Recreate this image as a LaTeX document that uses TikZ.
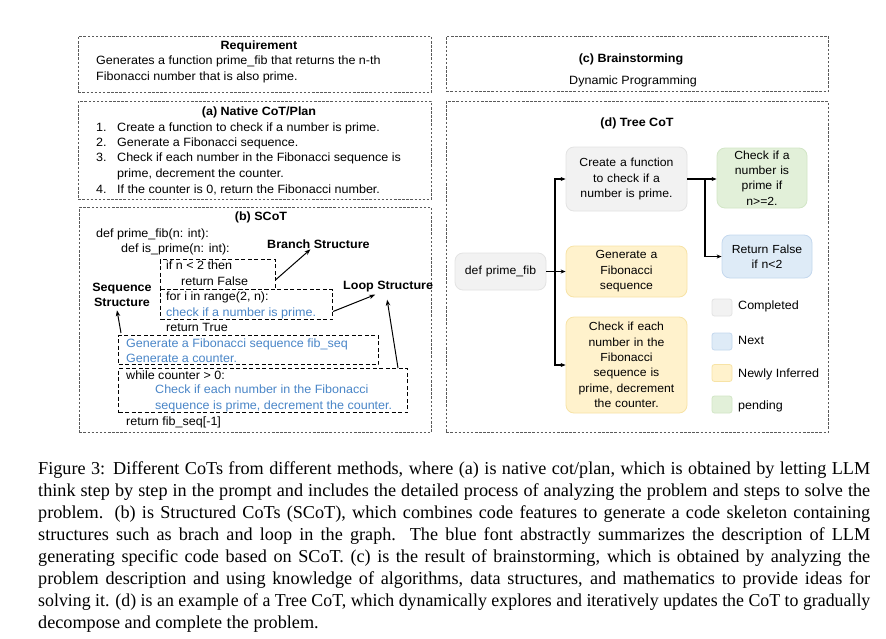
\documentclass[tikz,border=0pt]{standalone}
\usepackage{fontspec}
\setmainfont{Liberation Serif}
\newfontfamily\dfont[FakeStretch=1.045]{Liberation Sans}
\usetikzlibrary{calc,arrows.meta}
\definecolor{panelgray}{HTML}{5A5A5A}
\definecolor{bluetxt}{HTML}{4A86C8}
\definecolor{cgray}{HTML}{F2F2F2}
\definecolor{cgrayb}{HTML}{E3E3E3}
\definecolor{cyel}{HTML}{FFF2CC}
\definecolor{cyelb}{HTML}{F7E3A6}
\definecolor{cgreen}{HTML}{E2F0D9}
\definecolor{cgreenb}{HTML}{D2E6C6}
\definecolor{cblue}{HTML}{DEEBF7}
\definecolor{cblueb}{HTML}{C4D8EE}
\newsavebox\capbox
\newcommand\capline[1]{\sbox\capbox{#1}\ifdim\wd\capbox>832pt\resizebox{832pt}{\height}{\usebox\capbox}\else\makebox[832pt][s]{#1}\fi}
\begin{document}
\begin{tikzpicture}[x=1pt,y=-1pt,
  panel/.style={draw=panelgray, dash pattern=on 2.5pt off 1.6pt, line width=0.6pt, anchor=north west, inner sep=0pt},
  codebox/.style={draw=black, dash pattern=on 4pt off 2.5pt, line width=1pt, anchor=north west, inner sep=0pt},
  dt/.style={font=\dfont\fontsize{12}{14}\selectfont, inner sep=0pt, anchor=base west},
  bt/.style={font=\dfont\bfseries\fontsize{12}{14}\selectfont, inner sep=0pt, anchor=base west},
  btc/.style={font=\dfont\bfseries\fontsize{12}{14}\selectfont, inner sep=0pt, anchor=base},
  blt/.style={dt, text=bluetxt},
  tnode/.style={rounded corners=8pt, line width=0.8pt, inner sep=0pt, align=center,
    font=\dfont\fontsize{11.7}{15.4}\selectfont, text width=#1},
  tnode/.default=110pt,
  leg/.style={rounded corners=2.5pt, line width=0.8pt, minimum width=20pt, minimum height=17pt, inner sep=0pt},
  arr/.style={-{Stealth[length=6pt,width=4.5pt]}, line width=1pt},
  tarr/.style={-{Stealth[length=5pt,width=4pt]}, line width=1.1pt},
  captxt/.style={font=\fontsize{18.2}{22}\selectfont, inner sep=0pt, anchor=base west}
]
\useasboundingbox (0,0) rectangle (886,638);
\fill[white] (0,0) rectangle (886,638);

% ---------- Requirement ----------
\node[panel, minimum width=353pt, minimum height=56pt] (req) at (78,36) {};
\node[btc] (reqt) at (259,49) {Requirement};
\node[dt] (req1) at (96,64) {Generates a function prime\_fib that returns the n-th};
\node[dt] (req2) at (96,80) {Fibonacci number that is also prime.};

% ---------- (a) ----------
\node[panel, minimum width=353pt, minimum height=98pt] (pa) at (78,101) {};
\node[btc] (pat) at (259,115) {(a) Native CoT/Plan};
\node[dt] (a1n) at (96,131) {1.};
\node[dt] (a1) at (117,131) {Create a function to check if a number is prime.};
\node[dt] (a2n) at (96,146) {2.};
\node[dt] (a2) at (117,146) {Generate a Fibonacci sequence.};
\node[dt] (a3n) at (96,161) {3.};
\node[dt] (a3) at (117,161) {Check if each number in the Fibonacci sequence is};
\node[dt] (a3b) at (117,177) {prime, decrement the counter.};
\node[dt] (a4n) at (96,193) {4.};
\node[dt] (a4) at (117,193) {If the counter is 0, return the Fibonacci number.};

% ---------- (b) ----------
\node[panel, minimum width=352pt, minimum height=225pt] (pb) at (79,207) {};
\node[btc] (pbt) at (261,220) {(b) SCoT};
\node[dt] (c1) at (96,237) {def prime\_fib(n: int):};
\node[dt] (c2) at (121,252) {def is\_prime(n: int):};
\node[bt] (bs) at (267,248) {Branch Structure};
\node[codebox, minimum width=115pt, minimum height=30pt] (b1) at (160,259) {};
\node[dt] (c3) at (166,269) {if n < 2 then};
\node[dt] (c4) at (181,285) {return False};
\node[codebox, minimum width=172pt, minimum height=30pt] (b2) at (160,289) {};
\node[dt] (c5) at (166,300) {for i in range(2, n):};
\node[blt] (c6) at (166,316) {check if a number is prime.};
\node[btc] (ss1) at (122,291) {Sequence};
\node[btc] (ss2) at (122,306) {Structure};
\node[bt] (ls) at (343,289) {Loop Structure};
\node[dt] (c7) at (166,331) {return True};
\node[codebox, minimum width=260pt, minimum height=29pt] (b3) at (118,335) {};
\node[blt] (c8) at (126,347) {Generate a Fibonacci sequence fib\_seq};
\node[blt] (c9) at (126,362) {Generate a counter.};
\node[codebox, minimum width=289pt, minimum height=44pt] (b4) at (118,368) {};
\node[dt] (c10) at (126,379) {while counter > 0:};
\node[blt] (c11) at (155,393) {Check if each number in the Fibonacci};
\node[blt] (c12) at (155,409) {sequence is prime, decrement the counter.};
\node[dt] (c13) at (126,425) {return fib\_seq[-1]};

\draw[arr] ([yshift=-5pt]b1.east) -- ([xshift=-8pt,yshift=-1pt]bs.south);
\draw[arr] ([yshift=-7pt]b2.east) -- ([xshift=-13pt,yshift=-3pt]ls.south);
\draw[arr] ([xshift=3pt,yshift=2pt]b3.north west) -- ([xshift=-5pt,yshift=-4pt]ss2.south);
\draw[arr] ([xshift=-10pt]b4.north east) -- ([xshift=-1pt,yshift=-8pt]ls.south);

% ---------- (c) ----------
\node[panel, minimum width=382pt, minimum height=55pt] (pc) at (446,36) {};
\node[btc] (pct) at (631,62) {(c) Brainstorming};
\node[dt, anchor=base] (dp) at (633,84) {Dynamic Programming};

% ---------- (d) ----------
\node[panel, minimum width=382pt, minimum height=331pt] (pd) at (446,101) {};
\node[btc] (pdt) at (637,126) {(d) Tree CoT};

\node[tnode=91pt, fill=cgray, draw=cgrayb, minimum width=91pt, minimum height=37pt] (def) at (500.5,271.5) {def prime\_fib};
\node[tnode=112pt, fill=cgray, draw=cgrayb, minimum width=121pt, minimum height=64pt] (cr) at (626.5,179) {Create a function\\ to check if a\\ number is prime.};
\node[tnode=112pt, fill=cyel, draw=cyelb, minimum width=121pt, minimum height=51pt] (gen) at (626.5,271.5) {Generate a\\ Fibonacci\\ sequence};
\node[tnode=118pt, fill=cyel, draw=cyelb, minimum width=121pt, minimum height=96pt] (chk) at (626.5,365) {Check if each\\ number in the\\ Fibonacci\\ sequence is\\ prime, decrement\\ the counter.};
\node[tnode=88pt, fill=cgreen, draw=cgreenb, minimum width=90pt, minimum height=60pt] (grn) at (762,178) {Check if a\\ number is\\ prime if\\ n>=2.};
\node[tnode=88pt, fill=cblue, draw=cblueb, minimum width=90pt, minimum height=43pt] (blu) at (767,256.5) {Return False\\ if n<2};

\coordinate (j1) at (555,271.5);
\coordinate (j2) at (705,179);
\draw[line width=1.1pt] (def.east) -- (j1);
\draw[tarr] (j1) |- (cr.west);
\draw[tarr] (j1) -- (gen.west);
\draw[tarr] (j1) |- (chk.west);
\draw[line width=1.1pt] (cr.east) -- (j2);
\draw[tarr] (j2) -- (j2 -| grn.west);
\draw[tarr] (j2) |- (blu.west);

% legend
\node[leg, fill=cgray, draw=cgrayb] (lg1) at (722,307.5) {};
\node[leg, fill=cblue, draw=cblueb] (lg2) at (722,341.5) {};
\node[leg, fill=cyel, draw=cyelb] (lg3) at (722,373) {};
\node[leg, fill=cgreen, draw=cgreenb] (lg4) at (722,404.5) {};
\node[dt] (lt1) at (738,309.5) {Completed};
\node[dt] (lt2) at (738,344.5) {Next};
\node[dt] (lt3) at (738,377.5) {Newly Inferred};
\node[dt] (lt4) at (738,409.5) {pending};

% ---------- caption ----------
\node[captxt] (cap1) at (38,474) {\capline{Figure 3: Different CoTs from different methods, where (a) is native cot/plan, which is obtained by letting LLM}};
\node[captxt] (cap2) at (38,496.1) {\capline{think step by step in the prompt and includes the detailed process of analyzing the problem and steps to solve the}};
\node[captxt] (cap3) at (38,518.2) {\capline{problem. (b) is Structured CoTs (SCoT), which combines code features to generate a code skeleton containing}};
\node[captxt] (cap4) at (38,540.3) {\capline{structures such as brach and loop in the graph. The blue font abstractly summarizes the description of LLM}};
\node[captxt] (cap5) at (38,562.4) {\capline{generating specific code based on SCoT. (c) is the result of brainstorming, which is obtained by analyzing the}};
\node[captxt] (cap6) at (38,584.5) {\capline{problem description and using knowledge of algorithms, data structures, and mathematics to provide ideas for}};
\node[captxt] (cap7) at (38,606.6) {\capline{solving it. (d) is an example of a Tree CoT, which dynamically explores and iteratively updates the CoT to gradually}};
\node[captxt] (cap8) at (38,628.7) {decompose and complete the problem.};
\end{tikzpicture}
\end{document}
